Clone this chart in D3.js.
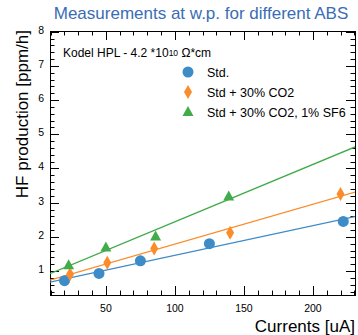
<!DOCTYPE html>
<html>
<head>
<meta charset="utf-8">
<style>
	body { margin: 0; background: white; }
	text { font-family: "Liberation Sans", Arial, sans-serif; }
</style>
</head>
<body>
<div id="chart"></div>
<script src="https://d3js.org/d3.v7.min.js"></script>
<script>
	// values
	var stdCurrents = [20, 45, 75, 125, 222];
	var stdHF = [0.72, 0.93, 1.30, 1.80, 2.45];
	var co2Currents = [24, 51, 85, 140, 220];
	var co2HF = [0.91, 1.24, 1.66, 2.12, 3.25];
	var sf6Currents = [23, 50, 86, 139];
	var sf6HF = [1.17, 1.69, 2.01, 3.18];

	var seriesNames = ["Std.", "Std + 30% CO2", "Std + 30% CO2, 1% SF6"];
	var seriesColors = ["#3d8bc7", "#fb8c2c", "#42ab4a"];
	var xTicks = [50, 100, 150, 200];
	var yTicks = [1, 2, 3, 4, 5, 6, 7, 8];

	var width = 358, height = 335;
	var pLeft = 50, pRight = 355, pTop = 31, pBottom = 295;

	var svg = d3.select("#chart").append("svg")
		.attr("width", width).attr("height", height);

	var x = d3.scaleLinear().domain([9.5, 230.5]).range([pLeft, pRight]);
	var y = d3.scaleLinear().domain([0.3, 8.02]).range([pBottom, pTop]);

	// frame
	svg.append("rect")
		.attr("x", pLeft + 0.5).attr("y", pTop + 0.5)
		.attr("width", pRight - pLeft).attr("height", pBottom - pTop)
		.attr("fill", "none").attr("stroke", "black").attr("stroke-width", 1);

	// ticks on all four sides, majors longer
	var xMinor = d3.range(10, 231, 10);
	var yMinor = d3.range(0.4, 8.01, 0.2).map(function(v) { return +v.toFixed(1); });

	function isMajor(v, list) { return list.indexOf(v) >= 0; }

	var tickG = svg.append("g").attr("stroke", "black").attr("stroke-width", 1);
	xMinor.forEach(function(v) {
		var len = isMajor(v, xTicks) ? 9 : 4.5;
		var px = Math.round(x(v)) + 0.5;
		tickG.append("line").attr("x1", px).attr("x2", px).attr("y1", pBottom).attr("y2", pBottom - len);
		tickG.append("line").attr("x1", px).attr("x2", px).attr("y1", pTop).attr("y2", pTop + len);
	});
	yMinor.forEach(function(v) {
		var len = isMajor(v, yTicks) ? 9 : 4.5;
		var py = Math.round(y(v)) + 0.5;
		tickG.append("line").attr("x1", pLeft).attr("x2", pLeft + len).attr("y1", py).attr("y2", py);
		tickG.append("line").attr("x1", pRight).attr("x2", pRight - len).attr("y1", py).attr("y2", py);
	});

	// tick labels
	svg.append("g").selectAll("text").data(xTicks).enter().append("text")
		.attr("x", function(d) { return x(d); })
		.attr("y", 312)
		.attr("text-anchor", "middle")
		.attr("font-size", "10.5px")
		.text(function(d) { return d; });

	svg.append("g").selectAll("text").data(yTicks).enter().append("text")
		.attr("x", 44)
		.attr("y", function(d) { return y(d) + 2; })
		.attr("text-anchor", "end")
		.attr("font-size", "10.5px")
		.text(function(d) { return d; });

	// titles
	svg.append("text")
		.attr("x", 201).attr("y", 19)
		.attr("text-anchor", "middle")
		.attr("font-size", "17px")
		.attr("fill", "#3a6db5")
		.text("Measurements at w.p. for different ABS");

	svg.append("text")
		.attr("x", 355).attr("y", 332)
		.attr("text-anchor", "end")
		.attr("font-size", "17px")
		.text("Currents [uA]");

	svg.append("text")
		.attr("transform", "translate(28,30) rotate(-90)")
		.attr("text-anchor", "end")
		.attr("font-size", "17px")
		.text("HF production [ppm/h]");

	var note = svg.append("text")
		.attr("x", 63).attr("y", 57)
		.attr("font-size", "12px");
	note.append("tspan").text("Kodel HPL - 4.2 *10");
	note.append("tspan").attr("font-size", "8.5px").attr("dy", -1).text("10");
	note.append("tspan").attr("dy", 1).text(" \u03A9*cm");

	// data series
	var series = [
		{ xs: stdCurrents, ys: stdHF },
		{ xs: co2Currents, ys: co2HF },
		{ xs: sf6Currents, ys: sf6HF }
	];

	function fit(xs, ys) {
		var mx = d3.mean(xs), my = d3.mean(ys);
		var sxy = d3.sum(xs, function(v, i) { return (v - mx) * (ys[i] - my); });
		var sxx = d3.sum(xs, function(v) { return (v - mx) * (v - mx); });
		var b = sxy / sxx;
		return { a: my - b * mx, b: b };
	}

	svg.append("clipPath").attr("id", "plotclip")
		.append("rect").attr("x", pLeft).attr("y", pTop)
		.attr("width", pRight - pLeft).attr("height", pBottom - pTop);

	var plot = svg.append("g").attr("clip-path", "url(#plotclip)");
	var xd = x.domain();

	series.forEach(function(s, k) {
		var f = fit(s.xs, s.ys);
		plot.append("line")
			.attr("x1", x(xd[0])).attr("y1", y(f.a + f.b * xd[0]))
			.attr("x2", x(xd[1])).attr("y2", y(f.a + f.b * xd[1]))
			.attr("stroke", seriesColors[k]).attr("stroke-width", 1.3);
	});

	function marker(g, k, cx, cy) {
		if (k === 0) {
			g.append("circle").attr("cx", cx).attr("cy", cy).attr("r", 5.5)
				.attr("fill", seriesColors[0]);
		} else if (k === 1) {
			g.append("path")
				.attr("d", "M" + cx + "," + (cy - 7) + "L" + (cx + 4) + "," + cy +
					"L" + cx + "," + (cy + 7) + "L" + (cx - 4) + "," + cy + "Z")
				.attr("fill", seriesColors[1]);
		} else {
			g.append("path")
				.attr("d", "M" + cx + "," + (cy - 6) + "L" + (cx + 5.5) + "," + (cy + 4) +
					"L" + (cx - 5.5) + "," + (cy + 4) + "Z")
				.attr("fill", seriesColors[2]);
		}
	}

	series.forEach(function(s, k) {
		s.xs.forEach(function(v, i) {
			marker(plot, k, x(v), y(s.ys[i]));
		});
	});

	// legend
	seriesNames.forEach(function(name, k) {
		var ly = 72 + k * 20;
		marker(svg, k, 188, ly);
		svg.append("text")
			.attr("x", 207).attr("y", ly + 5)
			.attr("font-size", "12.5px")
			.text(name);
	});
</script>
</body>
</html>
